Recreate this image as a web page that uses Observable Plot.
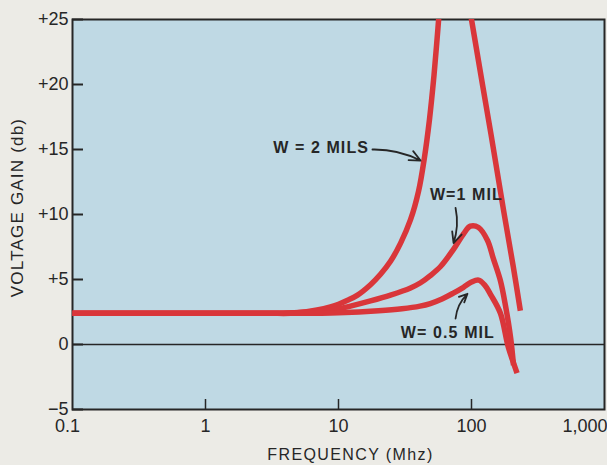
<!DOCTYPE html>
<html>
<head>
<meta charset="utf-8">
<script src="https://cdn.jsdelivr.net/npm/d3@7"></script>
<script src="https://cdn.jsdelivr.net/npm/@observablehq/plot@0.6"></script>
<style>
  html, body { margin: 0; padding: 0; background: #ecebe6; }
  #chart { width: 607px; height: 465px; }
</style>
</head>
<body>
<div id="chart"></div>
<script>
// ---- axis ticks ----
const freqTicks = [0.1, 1, 10, 100, 1000];
const freqTickLabels = ["0.1", "1", "10", "100", "1,000"];
const gainTicks = [-5, 0, 5, 10, 15, 20, 25];
const gainTickLabels = ["\u22125", "0", "+5", "+10", "+15", "+20", "+25"];

// ---- series (frequency in MHz, gain in db); null = curve leaves the chart ----
const seriesNames = ["W = 2 MILS", "W = 1 MIL", "W = 0.5 MIL"];
const w2Freq = [0.1, 1, 3, 4.35, 5.6, 6.9, 8.7, 10, 11.7, 13.9, 17.4, 20.7, 24.6, 29.3, 34.8, 40.0, 44.3, 48.3, 51.8, 54.6, 56.6, 58.5, 75, 97, 100, 140, 175, 206, 233];
const w2Gain = [2.4, 2.4, 2.4, 2.4, 2.5, 2.65, 2.9, 3.1, 3.4, 3.8, 4.6, 5.4, 6.4, 7.8, 9.6, 11.8, 14.4, 17.3, 20.3, 23, 25, 27, null, 26, 25, 16.2, 10.2, 6.0, 2.6];
const w1Freq = [0.1, 1, 4, 6.9, 10, 12.3, 17.4, 24.6, 34.8, 41.4, 49, 58.5, 73, 87, 98, 113, 132, 146, 165, 180, 197, 207];
const w1Gain = [2.4, 2.4, 2.42, 2.55, 2.75, 2.95, 3.35, 3.8, 4.35, 4.75, 5.3, 6.0, 7.3, 8.5, 9.1, 9.0, 8.0, 6.6, 4.9, 3.0, 0.5, -1.6];
const w05Freq = [0.1, 1, 5, 10, 20, 30, 41, 49, 60, 73, 87, 100, 113, 125, 140, 165, 189, 210, 220];
const w05Gain = [2.4, 2.4, 2.4, 2.45, 2.6, 2.75, 2.95, 3.15, 3.5, 3.95, 4.4, 4.8, 4.95, 4.6, 3.8, 2.4, -0.2, -1.6, -2.2];

// ---- annotations ----
const noteText = ["W = 2 MILS", "W=1 MIL", "W= 0.5 MIL"];
const noteFreq = [7.4, 91.6, 66.5];
const noteGain = [15.15, 11.5, 0.92];
const arrowFreq1 = [18, 75.9, 75.9];
const arrowGain1 = [15.0, 10.5, 2.0];
const arrowFreq2 = [41.4, 73.3, 93.3];
const arrowGain2 = [14.15, 7.8, 3.9];
const arrowBend = [14, 15, 20];

const xLabel = "FREQUENCY (Mhz)";
const yLabel = "VOLTAGE GAIN (db)";

// ---- build tables ----
const rows = [];
[[w2Freq, w2Gain], [w1Freq, w1Gain], [w05Freq, w05Gain]].forEach(([F, G], i) => {
  F.forEach((f, j) => rows.push({series: seriesNames[i], f, g: G[j]}));
});
const notes = noteText.map((t, i) => ({t, f: noteFreq[i], g: noteGain[i]}));
const arrows = arrowFreq1.map((f, i) => ({x1: f, y1: arrowGain1[i], x2: arrowFreq2[i], y2: arrowGain2[i]}));
const gainLabel = new Map(gainTicks.map((t, i) => [t, gainTickLabels[i]]));
const freqLabel = new Map(freqTicks.map((t, i) => [t, freqTickLabels[i]]));

const RED = "#d9363a";
const INK = "#262626";
const FONT = "Liberation Sans, Arial, sans-serif";

const arrowMarks = arrows.map((a, i) => Plot.arrow([a], {
  x1: "x1", y1: "y1", x2: "x2", y2: "y2", bend: arrowBend[i],
  stroke: INK, strokeWidth: 1.8, headLength: 10, headAngle: 50
}));

const chart = Plot.plot({
  width: 607,
  height: 465,
  marginLeft: 72,
  marginRight: 3,
  marginTop: 19,
  marginBottom: 56,
  style: {background: "#ecebe6", fontFamily: FONT, color: INK},
  x: {type: "log", domain: [0.1, 1000]},
  y: {domain: [-5, 25]},
  marks: [
    Plot.frame({fill: "#bfd9e4", stroke: null}),
    Plot.ruleY([0], {stroke: INK, strokeWidth: 1.5}),
    Plot.axisY(gainTicks, {
      anchor: "left", tickSize: -11, tickPadding: 15, strokeWidth: 2, stroke: INK,
      tickFormat: d => gainLabel.get(d), fontSize: 18, fill: INK, label: null
    }),
    Plot.axisX(freqTicks.slice(1, 4), {
      anchor: "bottom", tickSize: -10, tickPadding: 20, strokeWidth: 1.5, stroke: INK,
      tickFormat: d => freqLabel.get(d), fontSize: 18, fill: INK, label: null
    }),
    Plot.axisX(freqTicks.slice(0, 1), {
      anchor: "bottom", tickSize: 0, tickPadding: 10, dx: -5,
      tickFormat: d => freqLabel.get(d), fontSize: 18, fill: INK, label: null
    }),
    Plot.axisX(freqTicks.slice(4), {
      anchor: "bottom", tickSize: 0, tickPadding: 10, textAnchor: "end", dx: 3,
      tickFormat: d => freqLabel.get(d), fontSize: 18, fill: INK, label: null
    }),
    Plot.frame({stroke: INK, strokeWidth: 2}),
    Plot.line(rows, {
      x: "f", y: "g", z: "series", stroke: RED, strokeWidth: 5.5,
      curve: "catmull-rom", clip: true, strokeLinecap: "butt"
    }),
    ...arrowMarks,
    Plot.text(notes, {
      x: "f", y: "g", text: "t", fontSize: 16, fontWeight: "bold", fill: INK
    }),
    Plot.text([xLabel], {
      frameAnchor: "bottom", textAnchor: "middle", lineAnchor: "middle",
      dx: 12, dy: 45, fontSize: 16, fill: INK
    }),
    Plot.text([yLabel], {
      frameAnchor: "left", textAnchor: "middle", lineAnchor: "middle", rotate: -90,
      dx: -55, dy: -7, fontSize: 17, fill: INK
    })
  ]
});

// letter spacing for the hand-lettered labels
const spacing = new Map([[xLabel, "1.4px"], [yLabel, "1.2px"]]);
noteText.forEach(t => spacing.set(t, "1.1px"));
d3.select(chart).selectAll("text").each(function () {
  const s = spacing.get(this.textContent);
  if (s) this.style.letterSpacing = s;
});
document.getElementById("chart").appendChild(chart);
</script>
</body>
</html>
